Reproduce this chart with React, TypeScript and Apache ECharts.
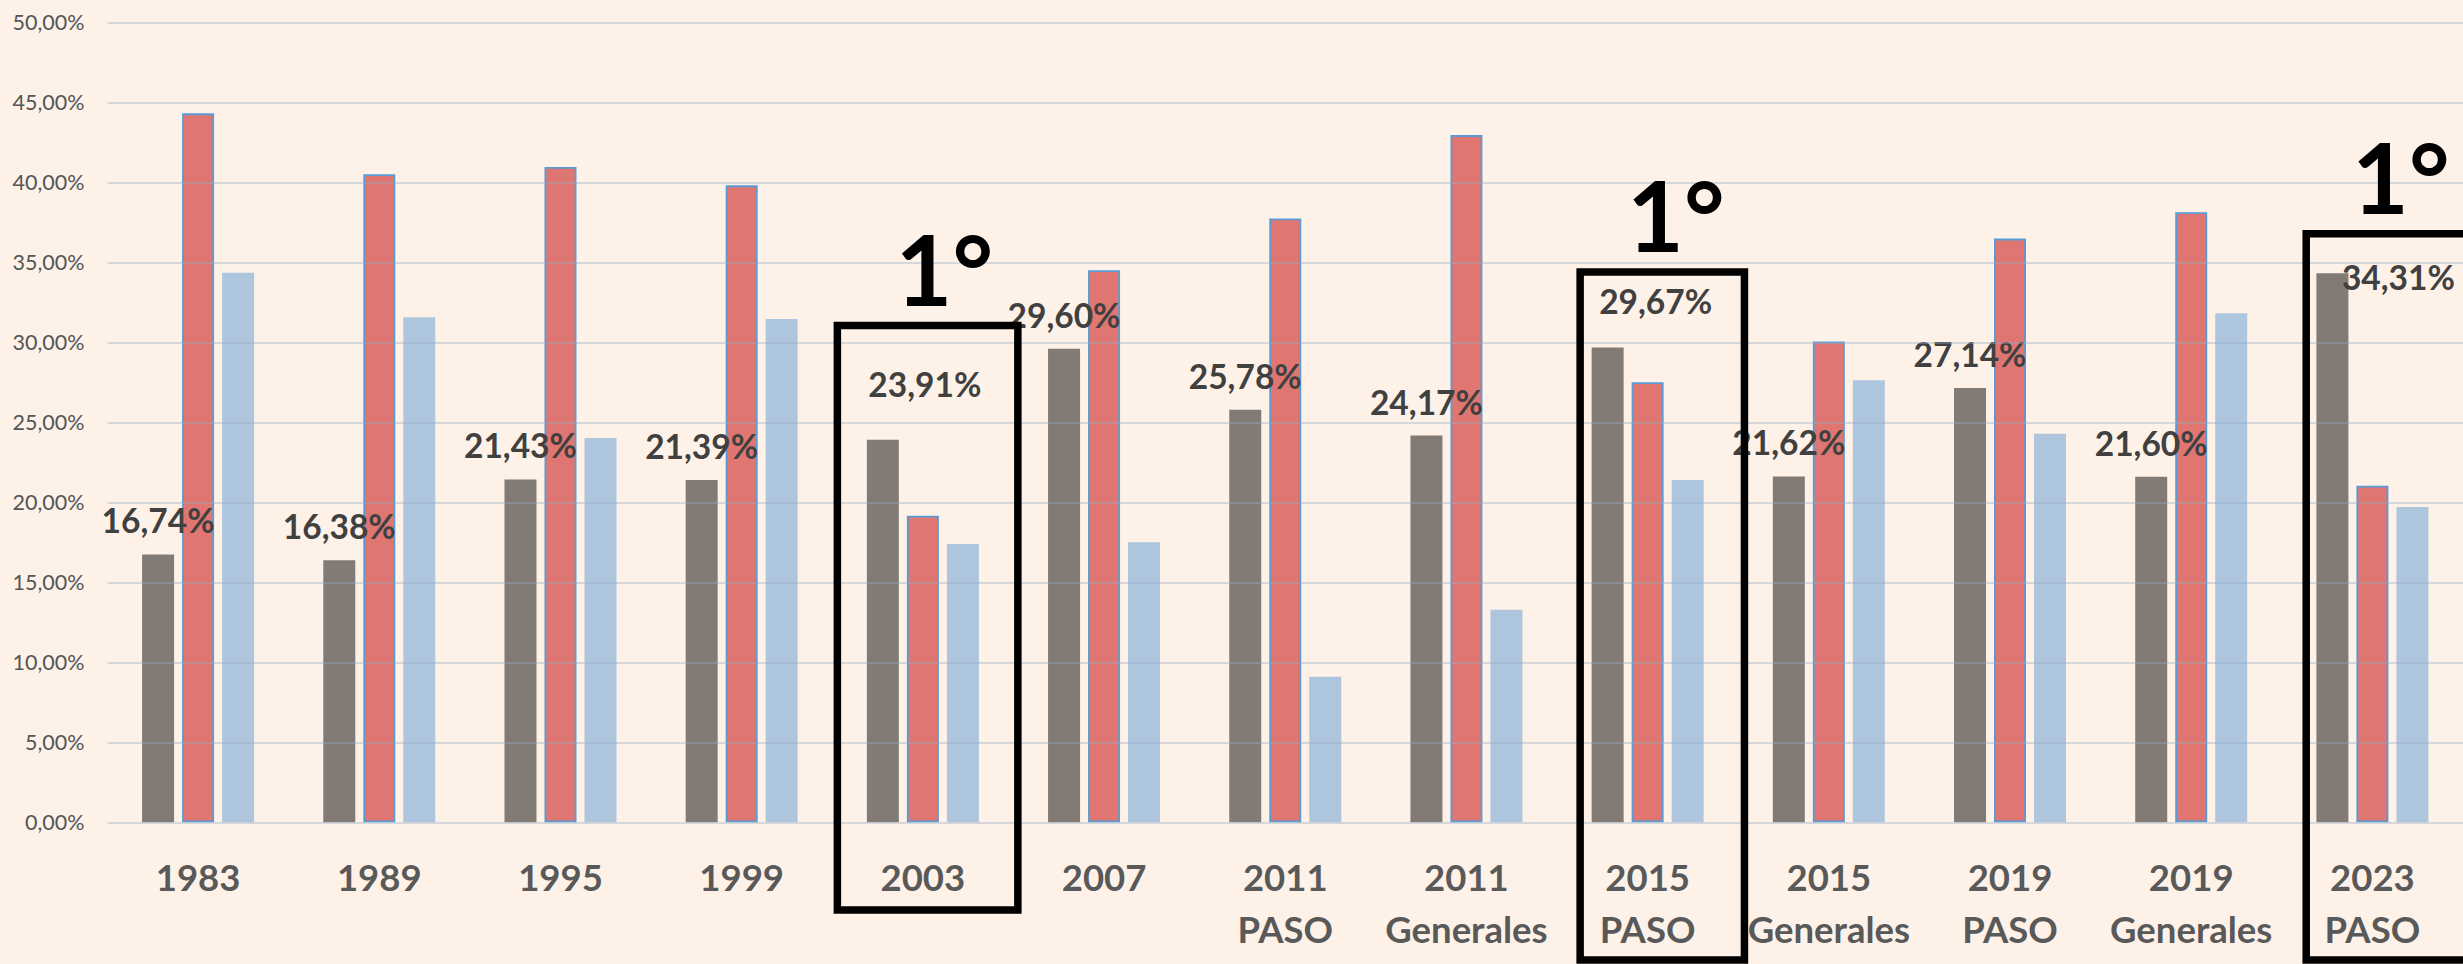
import React, { useEffect, useRef } from "react";
import * as echarts from "echarts";

const categories = [
  "1983", "1989", "1995", "1999", "2003", "2007",
  "2011\nPASO", "2011\nGenerales", "2015\nPASO", "2015\nGenerales",
  "2019\nPASO", "2019\nGenerales", "2023\nPASO",
];
const grayValues = [16.74, 16.38, 21.43, 21.39, 23.91, 29.6, 25.78, 24.17, 29.67, 21.62, 27.14, 21.6, 34.31];
const redValues = [44.31, 40.5, 40.96, 39.81, 19.16, 34.5, 37.74, 42.95, 27.5, 30.05, 36.48, 38.13, 21.04];
const blueValues = [34.35, 31.56, 24.02, 31.46, 17.39, 17.5, 9.1, 13.29, 21.39, 27.63, 24.28, 31.82, 19.71];
const yTicks = { min: 0, max: 50, interval: 5 };
const highlightedCategories = [4, 8, 12];
const highlightText = "1°";

const FONT = "Lato, 'Open Sans', sans-serif";
const fmt = (v: number) => v.toFixed(2).replace(".", ",") + "%";

export default function App() {
  const ref = useRef<HTMLDivElement>(null);
  useEffect(() => {
    const chart = echarts.init(ref.current!, null, { renderer: "svg" });
    const labelShift: Record<number, [number, number]> = {
      4: [42, -22],
      8: [48, -13],
      12: [66, 38],
    };
    const grayData = grayValues.map((v, i) =>
      labelShift[i] ? { value: v, label: { offset: labelShift[i] } } : v
    );
    chart.setOption({
      animation: false,
      backgroundColor: "#FEF2E8",
      grid: { left: 107.5, top: 22.3, width: 2366, height: 800, containLabel: false },
      xAxis: {
        type: "category",
        data: categories,
        axisLine: { show: false },
        axisTick: { show: false },
        axisLabel: {
          interval: 0,
          margin: 29,
          fontFamily: FONT,
          fontWeight: "bold",
          fontSize: 36.5,
          lineHeight: 52,
          color: "#595959",
        },
      },
      yAxis: {
        type: "value",
        min: yTicks.min,
        max: yTicks.max,
        interval: yTicks.interval,
        z: 10,
        axisLine: { show: false },
        axisTick: { show: false },
        axisLabel: { formatter: fmt, margin: 23, fontSize: 21.5, fontFamily: FONT, color: "#555555" },
        splitLine: { lineStyle: { color: "rgba(150,170,195,0.38)", width: 2 } },
      },
      series: [
        {
          type: "bar",
          name: "Serie 1",
          data: grayData,
          barWidth: 32,
          barGap: "25%",
          itemStyle: { color: "#827A75" },
          label: {
            show: true,
            position: "top",
            distance: 17,
            formatter: (p: any) => fmt(Number(p.value)),
            fontFamily: FONT,
            fontWeight: "bold",
            fontSize: 33.5,
            color: "#404040",
          },
        },
        {
          type: "bar",
          name: "Serie 2",
          data: redValues,
          barWidth: 32,
          barGap: "25%",
          itemStyle: { color: "#DF7671", borderColor: "#5B9BD5", borderWidth: 1.8 },
        },
        {
          type: "bar",
          name: "Serie 3",
          data: blueValues,
          barWidth: 32,
          barGap: "25%",
          itemStyle: { color: "#ADC6DE" },
        },
      ],
    });

    // highlight boxes: [left offset from category center, width, top y(px), bottom y(px)]
    const boxGeom: Record<number, [number, number, number, number]> = {
      4: [-85.5, 180.5, 325.5, 910],
      8: [-67.5, 164.3, 272, 960],
      12: [-66.2, 180, 233.7, 960],
    };
    const textDx: Record<number, number> = { 4: 21.5, 8: 28.2, 12: 28.5 };
    const graphics: any[] = [];
    highlightedCategories.forEach((ci) => {
      const c = chart.convertToPixel({ xAxisIndex: 0 }, ci) as number;
      const [dl, w, top, bottom] = boxGeom[ci];
      graphics.push({
        type: "rect",
        z: 100,
        shape: { x: c + dl, y: top, width: w, height: bottom - top },
        style: { fill: "none", stroke: "#000", lineWidth: 7.5 },
      });
      graphics.push({
        type: "text",
        z: 100,
        x: c + textDx[ci],
        y: top - 58,
        style: {
          text: highlightText,
          fontSize: 98,
          fontWeight: "bold",
          fontFamily: FONT,
          fill: "#000",
          align: "center",
          verticalAlign: "middle",
        },
      });
    });
    chart.setOption({ graphic: graphics });
    return () => chart.dispose();
  }, []);
  return (
    <div
      ref={ref}
      style={{ position: "fixed", left: 0, top: 0, width: 2463, height: 964 }}
    />
  );
}
